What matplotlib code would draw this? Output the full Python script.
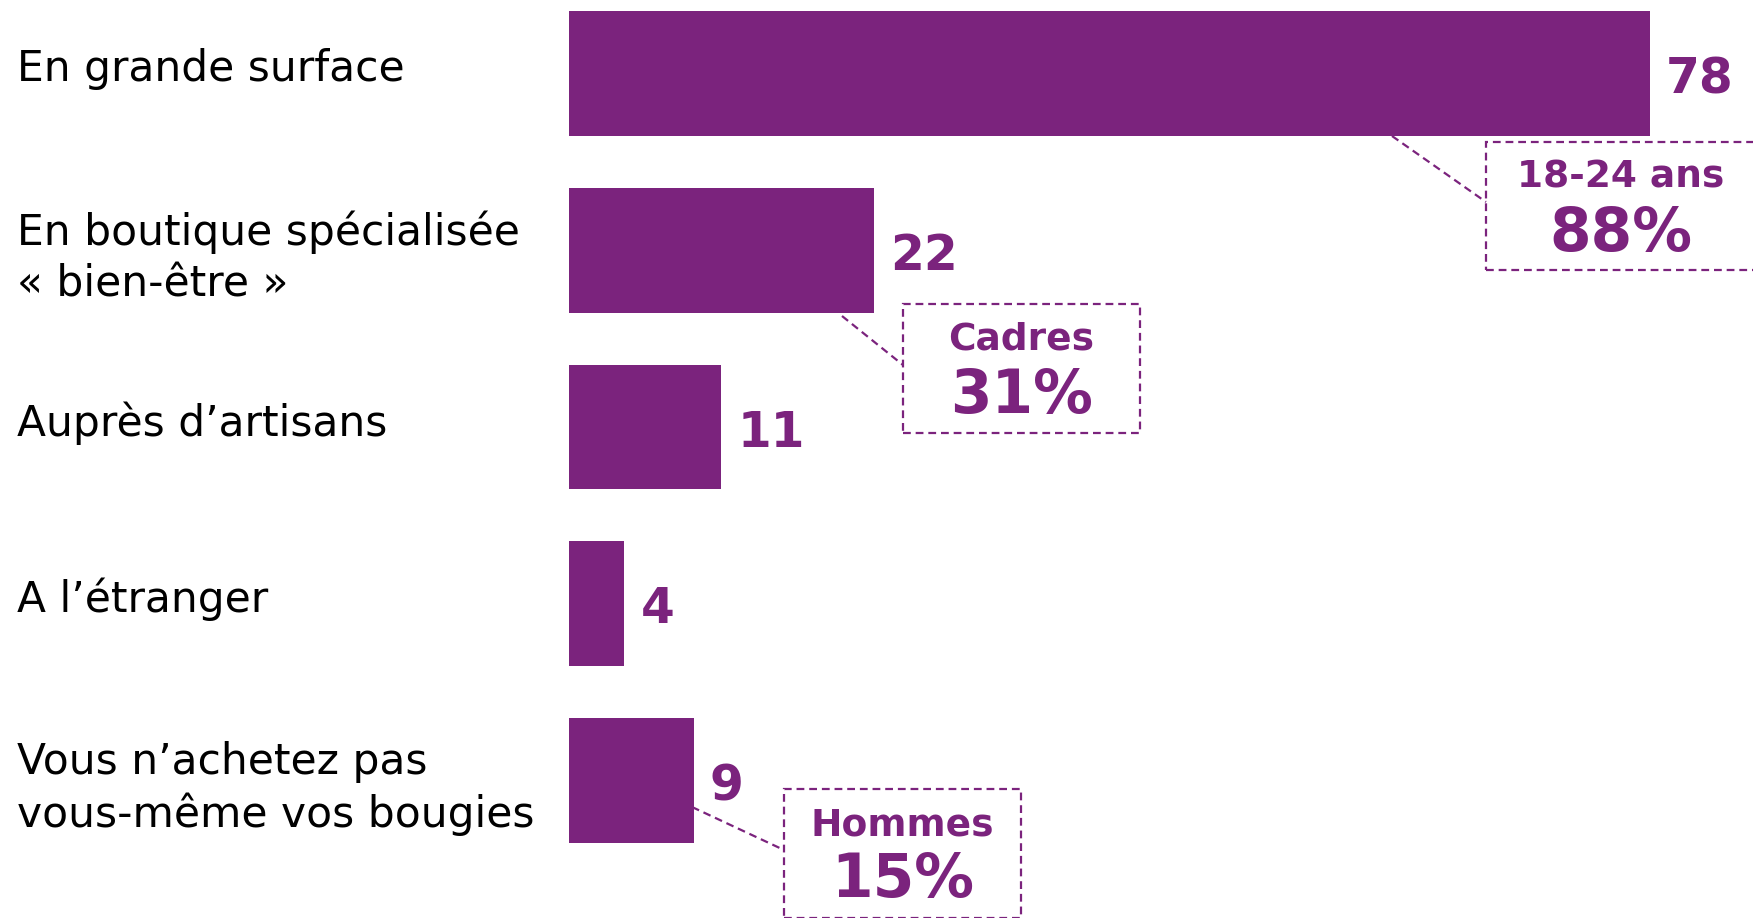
import numpy as np
import matplotlib
matplotlib.use("Agg")
import matplotlib.pyplot as plt
from matplotlib.patches import Rectangle
from matplotlib.lines import Line2D

# data
categories = ["En grande surface",
              "En boutique spécialisée\n« bien-être »",
              "Auprès d’artisans",
              "A l’étranger",
              "Vous n’achetez pas\nvous-même vos bougies"]
values = [78, 22, 11, 4, 9]

# callouts: (bar index, group, percent)
callout_bars = [0, 1, 4]
callout_groups = ["18-24 ans", "Cadres", "Hommes"]
callout_values = [88, 31, 15]

purple = "#7B237D"
W, H = 1753, 918


def main():
    plt.rcParams['font.family'] = ['DejaVu Sans']
    fig = plt.figure(figsize=(W / 100, H / 100), dpi=100)
    ax = fig.add_axes([0, 0, 1, 1])

    # map: x=0 at px 569, 13.86 px per unit; bar pitch 176.75 px, first centre 73.5 px
    ppu = 13.86
    x0 = 569
    pitch = 176.75
    y0 = 73.5
    ax.set_xlim(-x0 / ppu, (W - x0) / ppu)
    ax.set_ylim((H - y0) / pitch, -y0 / pitch)
    ax.axis("off")

    ypos = np.arange(len(values))
    bars = ax.barh(ypos, values, height=0.707, color=purple)

    for b, v in zip(bars, values):
        ax.annotate(str(v), (b.get_width(), b.get_y() + b.get_height() / 2),
                    xytext=(11.5, -4), textcoords="offset points",
                    ha="left", va="center", fontsize=35, fontweight="bold",
                    color=purple)

    for y, lab in zip(ypos, categories):
        # two-line labels sit a bit lower than single-line ones
        dy = -5.5 if "\n" in lab else 3
        ax.annotate(lab, (17 / W, y), xycoords=ax.get_yaxis_transform(),
                    xytext=(0, dy), textcoords="offset points",
                    ha="left", va="center", fontsize=30.5, color="black",
                    linespacing=1.27)

    # callout boxes in pixel positions (left, top, width, height) and leader start
    boxes = [(1486, 142, 270, 128), (903, 304, 237, 129), (784, 789, 237, 129)]
    leaders = [((1392, 136), (1486, 202)),
               ((842, 316), (903, 365)),
               ((692, 807), (784, 850))]

    def fx(px):
        return px / W

    def fy(py):
        return 1 - py / H

    for (l, t, w, h), (p1, p2), grp, val in zip(boxes, leaders, callout_groups, callout_values):
        rect = Rectangle((fx(l), fy(t + h)), w / W, h / H, transform=fig.transFigure,
                         fill=False, edgecolor=purple, linewidth=1.6,
                         linestyle=(0, (3.5, 2.2)), clip_on=False)
        fig.add_artist(rect)
        fig.add_artist(Line2D([fx(p1[0]), fx(p2[0])], [fy(p1[1]), fy(p2[1])],
                              transform=fig.transFigure, color=purple,
                              linewidth=1.6, linestyle=(0, (3.5, 2.2))))
        cx = fx(l + w / 2)
        fig.text(cx, fy(t + 36), grp, ha="center", va="center", fontsize=27,
                 fontweight="bold", color=purple)
        fig.text(cx, fy(t + 92), "%d%%" % val, ha="center", va="center", fontsize=43,
                 fontweight="bold", color=purple)

    fig.savefig("out.png", dpi=100)


if __name__ == "__main__":
    main()
